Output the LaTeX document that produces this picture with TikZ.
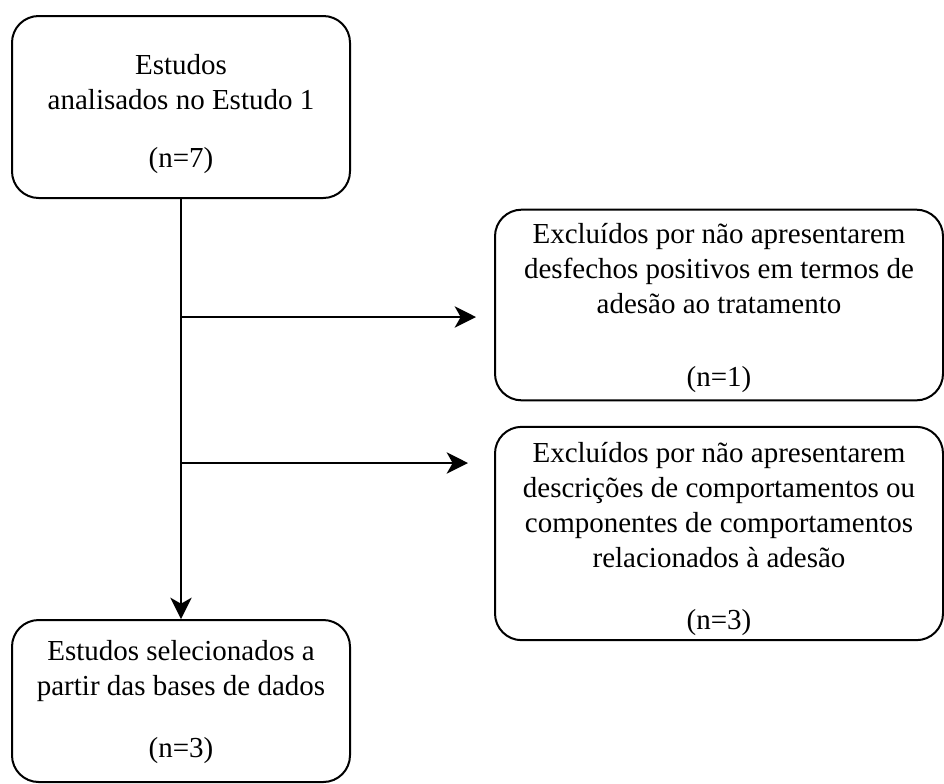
\documentclass[tikz,border=0pt]{standalone}
\usepackage{fontspec}
\setmainfont{Liberation Serif}
\usetikzlibrary{arrows.meta}
\begin{document}
\begin{tikzpicture}[x=0.75pt,y=-0.75pt,
  box/.style={draw, line width=1.5pt, rounded corners=20pt, inner sep=0pt},
  txt/.style={align=center, inner sep=0pt, font=\fontsize{21.75}{26.25}\selectfont},
  conn/.style={line width=1.5pt, -{Stealth[length=16pt,width=16pt,inset=4.5pt]}}]
\useasboundingbox (0,0) rectangle (944,783);
\node[box, minimum width=253.5pt, minimum height=136.5pt] (b1) at (181,107) {};
\node[txt] (b1t) at (181,114)
  {Estudos\\analisados no Estudo 1\\[17pt](n=7)};
\node[box, minimum width=336pt, minimum height=143pt] (b2) at (719,305) {};
\node[txt] (b2t) at (719,308)
  {Excluídos por não apresentarem\\desfechos positivos em termos de\\adesão ao tratamento\\[29pt](n=1)};
\node[box, minimum width=336pt, minimum height=160pt] (b3) at (719,533.5) {};
\node[txt] (b3t) at (719,539)
  {Excluídos por não apresentarem\\descrições de comportamentos ou\\componentes de comportamentos\\relacionados à adesão\\[20pt](n=3)};
\node[box, minimum width=253.5pt, minimum height=121.5pt] (b4) at (181,701) {};
\node[txt] (b4t) at (181,702)
  {Estudos selecionados a\\partir das bases de dados\\[20pt](n=3)};
\coordinate (j1) at (181,317);
\coordinate (j2) at (181,463);
\coordinate (t1) at (476,317);
\coordinate (t2) at (468,463);
\draw[conn] (b1.south) -- (b4.north);
\draw[conn] (j1) -- (t1);
\draw[conn] (j2) -- (t2);
\end{tikzpicture}
\end{document}
